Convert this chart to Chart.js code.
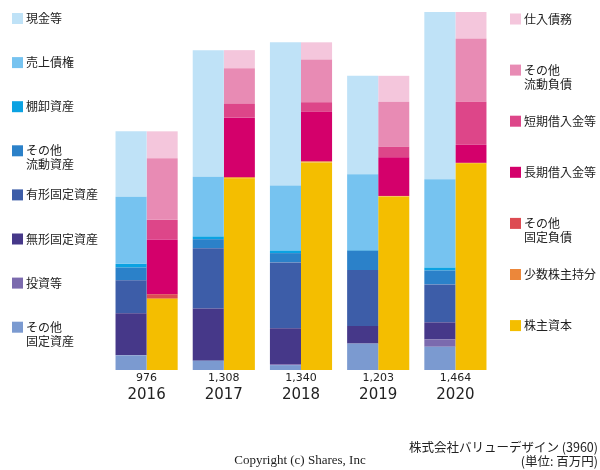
<!DOCTYPE html>
<html>
<head>
<meta charset="utf-8">
<script src="https://cdn.jsdelivr.net/npm/chart.js@4.4.1/dist/chart.umd.min.js"></script>
<style>
  html, body { margin: 0; padding: 0; background: #fff; }
  #wrap { width: 600px; height: 470px; position: relative; }
</style>
</head>
<body>
<div id="wrap"><canvas id="bsChart" width="600" height="470"></canvas></div>
<script>
// Balance sheet data (百万円)
const years = ['2016', '2017', '2018', '2019', '2020'];
const totals = [976, 1308, 1340, 1203, 1464];

// assets
const cash = [268, 518, 586, 402, 684];
const receivables = [274, 244, 266, 311, 361];
const inventory = [15, 11, 10, 2, 12];
const otherCurrentAssets = [52, 37, 38, 79, 57];
const tangibleAssets = [135, 247, 269, 229, 155];
const intangibleAssets = [172, 213, 147, 72, 70];
const investments = [0, 0, 4, 0, 30];
const otherFixedAssets = [60, 38, 20, 108, 95];

// liabilities + equity
const payables = [110, 74, 70, 106, 108];
const otherCurrentLiab = [252, 146, 175, 184, 259];
const shortTermDebt = [80, 56, 39, 43, 176];
const longTermDebt = [224, 243, 203, 158, 74];
const otherFixedLiab = [16, 0, 0, 0, 0];
const minorityInterest = [4, 5, 4, 2, 2];
const equity = [290, 784, 849, 710, 845];

// stacked bottom -> top
const assetSeries = [
    { label: ['その他', '固定資産'], data: otherFixedAssets, color: '#7b9ad0' },
    { label: ['投資等'], data: investments, color: '#7b6aae' },
    { label: ['無形固定資産'], data: intangibleAssets, color: '#463889' },
    { label: ['有形固定資産'], data: tangibleAssets, color: '#3d5da8' },
    { label: ['その他', '流動資産'], data: otherCurrentAssets, color: '#2b81c9' },
    { label: ['棚卸資産'], data: inventory, color: '#0ba2e2' },
    { label: ['売上債権'], data: receivables, color: '#76c3f0' },
    { label: ['現金等'], data: cash, color: '#bfe2f7' }
];
const liabSeries = [
    { label: ['株主資本'], data: equity, color: '#f4be00' },
    { label: ['少数株主持分'], data: minorityInterest, color: '#ec873a' },
    { label: ['その他', '固定負債'], data: otherFixedLiab, color: '#dd4b52' },
    { label: ['長期借入金等'], data: longTermDebt, color: '#d4006b' },
    { label: ['短期借入金等'], data: shortTermDebt, color: '#dd4689' },
    { label: ['その他', '流動負債'], data: otherCurrentLiab, color: '#e88bb4' },
    { label: ['仕入債務'], data: payables, color: '#f4c6dc' }
];

const jpFont = '"Noto Sans CJK JP", "Noto Sans", sans-serif';
const numFont = '"DejaVu Sans", sans-serif';

function toDataset(s, stack) {
    return {
        label: s.label.join(''),
        data: s.data,
        backgroundColor: s.color,
        borderWidth: 0,
        stack: stack,
        barPercentage: 1.0,
        categoryPercentage: 0.805
    };
}

// legend drawn at fixed spots on both sides
const sideLegend = {
    id: 'sideLegend',
    afterDraw(chart) {
        const ctx = chart.ctx;
        ctx.save();
        ctx.font = '12px ' + jpFont;
        ctx.fillStyle = '#222';
        ctx.textBaseline = 'middle';
        ctx.textAlign = 'left';
        // left: top -> bottom order
        const leftItems = assetSeries.slice().reverse();
        leftItems.forEach((s, i) => {
            const y = 18.5 + i * 44.1;
            ctx.fillStyle = s.color;
            ctx.fillRect(12, y - 5.5, 11, 11);
            ctx.fillStyle = '#222';
            s.label.forEach((t, j) => ctx.fillText(t, 26, y + j * 14));
        });
        const rightItems = liabSeries.slice().reverse();
        rightItems.forEach((s, i) => {
            const y = 19 + i * 51.1;
            ctx.fillStyle = s.color;
            ctx.fillRect(510, y - 5.5, 11, 11);
            ctx.fillStyle = '#222';
            s.label.forEach((t, j) => ctx.fillText(t, 524, y + j * 14.5));
        });

        // footer
        ctx.font = '12.5px ' + jpFont;
        ctx.textAlign = 'right';
        ctx.fillText('株式会社バリューデザイン (3960)', 598, 447);
        ctx.fillText('(単位: 百万円)', 598, 461);
        ctx.textAlign = 'center';
        ctx.font = '13px "Liberation Serif", serif';
        ctx.fillText('Copyright (c) Shares, Inc', 300, 461);
        ctx.restore();
    }
};

const ctx = document.getElementById('bsChart').getContext('2d');
const bsChart = new Chart(ctx, {
    type: 'bar',
    data: {
        labels: years,
        datasets: assetSeries.map(s => toDataset(s, 'assets'))
            .concat(liabSeries.map(s => toDataset(s, 'liab')))
    },
    options: {
        responsive: false,
        animation: false,
        layout: {
            padding: { left: 108, right: 106, top: 12, bottom: 64 }
        },
        plugins: {
            legend: { display: false },
            tooltip: { enabled: false }
        },
        scales: {
            x: {
                stacked: true,
                grid: { display: false, drawTicks: false },
                border: { display: false },
                ticks: {
                    padding: 2,
                    color: '#222',
                    font: { family: numFont, size: 11 },
                    callback: function(value, index) {
                        return totals[index].toLocaleString('en-US');
                    }
                },
                afterFit: function(scale) { scale.height = 16; }
            },
            x2: {
                type: 'category',
                labels: years,
                position: 'bottom',
                offset: true,
                grid: { display: false, drawTicks: false },
                border: { display: false },
                ticks: {
                    padding: 0,
                    color: '#222',
                    font: { family: numFont, size: 15 }
                },
                afterFit: function(scale) { scale.height = 20; }
            },
            y: {
                stacked: true,
                display: false,
                min: 0,
                max: 1464
            }
        }
    },
    plugins: [sideLegend]
});
</script>
</body>
</html>
